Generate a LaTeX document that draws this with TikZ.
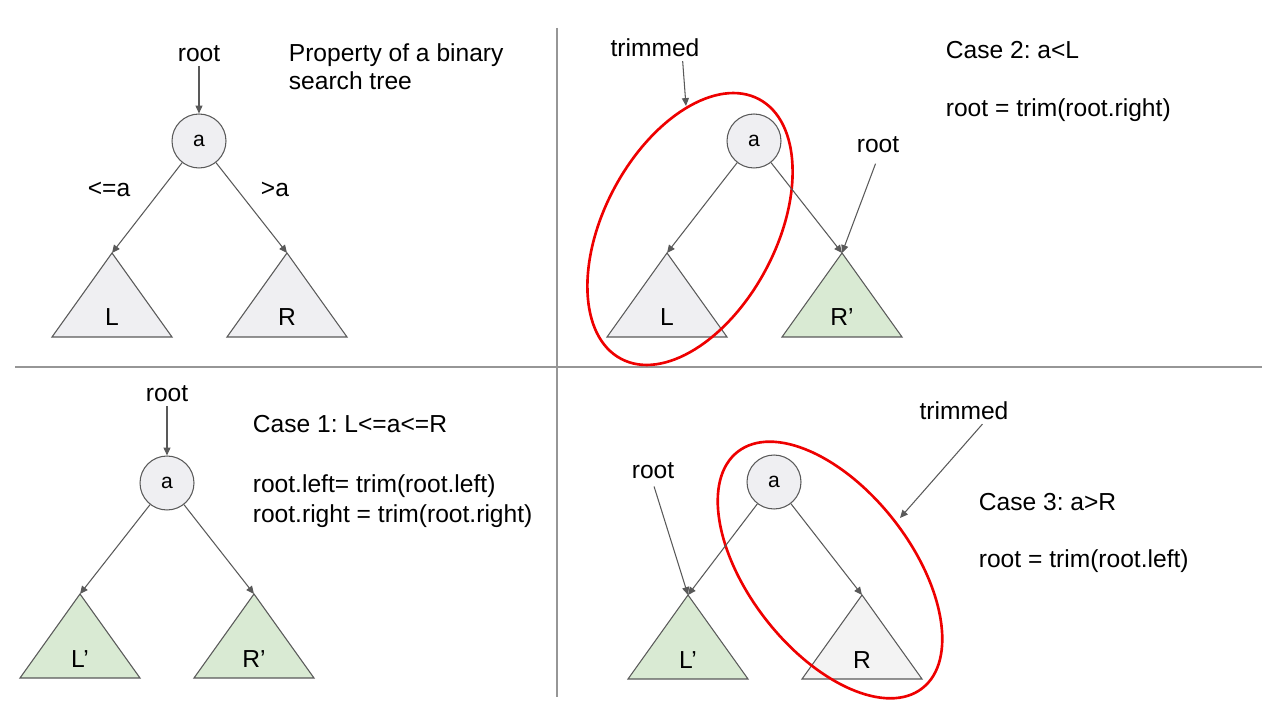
\documentclass[tikz,border=0pt]{standalone}
\usepackage{fontspec}
\setmainfont{Liberation Sans}
\usetikzlibrary{arrows.meta}
\frenchspacing

\definecolor{linegray}{RGB}{89,89,89}
\definecolor{keygray}{RGB}{239,239,242}
\definecolor{lightgray}{RGB}{243,243,243}
\definecolor{newgreen}{RGB}{217,234,211}
\definecolor{trimred}{RGB}{238,0,0}
\definecolor{divgray}{RGB}{150,150,150}

\begin{document}
\begin{tikzpicture}[x=0.02cm, y=-0.02cm,
  txt/.style={font=\fontsize{14}{16}\selectfont, inner sep=2pt},
  key/.style={circle, draw=linegray, fill=keygray, line width=0.6pt,
    minimum size=1.08cm, inner sep=0pt, font=\fontsize{12}{14}\selectfont},
  sub/.style={draw=linegray, line width=0.6pt},
  sublbl/.style={font=\fontsize{14}{16}\selectfont, inner sep=0pt},
  edge/.style={draw=linegray, line width=0.6pt,
    -{Triangle[length=4.5pt,width=4pt]}},
  trimloop/.style={draw=trimred, line width=1.5pt},
  divider/.style={draw=divgray, line width=0.7pt}]

\useasboundingbox (0,0) rectangle (1264,712);

%% dividers
\draw[divider] (15,367) -- (1262,367);
\draw[divider] (557,28) -- (557,697);

%%% top left: property of a binary search tree
\node[key] (a1) at (199,141) {a};                          %% a
\node[txt, anchor=base] (root1) at (199,62) {root};
\coordinate (L1) at (112,253);                             %% L
\coordinate (R1) at (287,253);                             %% R
\draw[sub, fill=keygray] (L1) -- ++(-60,84) -- ++(120,0) -- cycle;
\draw[sub, fill=keygray] (R1) -- ++(-60,84) -- ++(120,0) -- cycle;
\node[sublbl, anchor=base] (L1lbl) at (112,326) {L};
\node[sublbl, anchor=base] (R1lbl) at (287,326) {R};
\node[txt, anchor=base] (le1) at (109,197) {<=a};
\node[txt, anchor=base] (gt1) at (275,197) {>a};
\node[txt, anchor=base west] (prop1) at (285,62) {Property of a binary};
\node[txt, anchor=base west] (prop2) at (285,90) {search tree};
\draw[edge] (root1) -- (a1);
\draw[edge] (a1) -- (L1);
\draw[edge] (a1) -- (R1);

%%% top right: case 2
\node[key] (a2) at (754,141) {a};                          %% a
\coordinate (L2) at (667,253);                             %% L
\coordinate (R2) at (842,253);                             %% R'
\draw[sub, fill=keygray] (L2) -- ++(-60,84) -- ++(120,0) -- cycle;
\draw[sub, fill=newgreen] (R2) -- ++(-60,84) -- ++(120,0) -- cycle;
\node[sublbl, anchor=base] (L2lbl) at (667,326) {L};
\node[sublbl, anchor=base] (R2lbl) at (842,326) {R’};
\draw[trimloop, rotate around={62:(690,229)}] (690,229) ellipse [x radius=147, y radius=86];
\node[txt, anchor=base] (trim2) at (655,57) {trimmed};
\coordinate (trim2end) at (686,106);
\node[txt, anchor=base] (root2) at (878,153) {root};
\node[txt, anchor=base west] (case2) at (942,59) {Case 2: a<L};
\node[txt, anchor=base west] (code2) at (942,117) {root = trim(root.right)};
\draw[edge] (trim2.-25) -- (trim2end);
\draw[edge, shorten <=4pt] (root2.south) -- (R2);
\draw[edge] (a2) -- (L2);
\draw[edge] (a2) -- (R2);

%%% bottom left: case 1
\node[key] (a3) at (167,483) {a};                          %% a
\node[txt, anchor=base] (root3) at (167,402) {root};
\coordinate (L3) at (80,594);                              %% L'
\coordinate (R3) at (254,594);                             %% R'
\draw[sub, fill=newgreen] (L3) -- ++(-60,84) -- ++(120,0) -- cycle;
\draw[sub, fill=newgreen] (R3) -- ++(-60,84) -- ++(120,0) -- cycle;
\node[sublbl, anchor=base] (L3lbl) at (80,667) {L’};
\node[sublbl, anchor=base] (R3lbl) at (254,667) {R’};
\node[txt, anchor=base west] (case1) at (249,433) {Case 1: L<=a<=R};
\node[txt, anchor=base west] (code1a) at (249,493) {root.left= trim(root.left)};
\node[txt, anchor=base west] (code1b) at (249,522) {root.right = trim(root.right)};
\draw[edge] (root3) -- (a3);
\draw[edge] (a3) -- (L3);
\draw[edge] (a3) -- (R3);

%%% bottom right: case 3
\node[key] (a4) at (774,482) {a};                          %% a
\coordinate (L4) at (688,595);                             %% L'
\coordinate (R4) at (862,595);                             %% R
\draw[sub, fill=newgreen] (L4) -- ++(-60,84) -- ++(120,0) -- cycle;
\draw[sub, fill=lightgray] (R4) -- ++(-60,84) -- ++(120,0) -- cycle;
\node[sublbl, anchor=base] (L4lbl) at (688,668) {L’};
\node[sublbl, anchor=base] (R4lbl) at (862,668) {R};
\draw[trimloop, rotate around={-52:(830,570)}] (830,570) ellipse [x radius=150, y radius=81];
\node[txt, anchor=base] (root4) at (653,479) {root};
\node[txt, anchor=base] (trim4) at (964,420) {trimmed};
\coordinate (trim4end) at (900,518);
\node[txt, anchor=base west] (case3) at (975,510) {Case 3: a>R};
\node[txt, anchor=base west] (code3) at (975,567) {root = trim(root.left)};
\draw[edge, shorten <=2pt] (root4.south) -- (L4);
\draw[edge] (trim4.-35) -- (trim4end);
\draw[edge] (a4) -- (L4);
\draw[edge] (a4) -- (R4);
\end{tikzpicture}
\end{document}
